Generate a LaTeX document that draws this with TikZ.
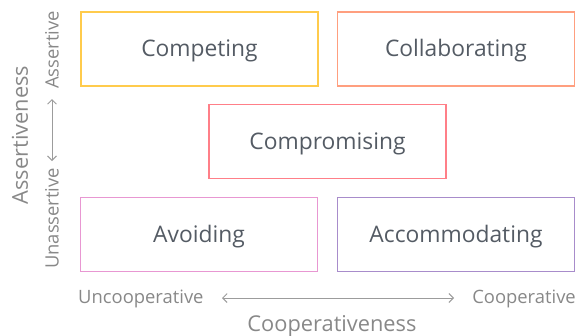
\documentclass[tikz,border=0pt]{standalone}
\usepackage{fontspec}
\setmainfont{Open Sans}
\usetikzlibrary{arrows.meta}
\definecolor{cyel}{HTML}{FFCB4C}
\definecolor{corg}{HTML}{FF9F7F}
\definecolor{cred}{HTML}{FF7F88}
\definecolor{cpnk}{HTML}{E897D2}
\definecolor{cpur}{HTML}{A88CCB}
\definecolor{ctxt}{HTML}{545B64}
\definecolor{caxs}{HTML}{888888}
\definecolor{carr}{HTML}{9C9C9C}
\begin{document}
\begin{tikzpicture}[x=1pt,y=-1pt,
  stylebox/.style={draw,line width=1.4pt,minimum width=237pt,minimum height=74pt,inner sep=0pt,
    text height=21pt,text depth=5.5pt,
    font=\fontsize{22.8}{26}\selectfont,text=ctxt},
  axlab/.style={font=\fontsize{18.4}{22}\selectfont,text=caxs,inner sep=0pt},
  axtitle/.style={font=\fontsize{21.8}{26}\selectfont,text=caxs,inner sep=0pt},
  axarrow/.style={draw=carr,line width=0.9pt,{Straight Barb[length=4.5pt,width=9pt]}-{Straight Barb[length=4.5pt,width=9pt]}}]
\useasboundingbox (0,0) rectangle (580,335);
\node[stylebox,draw=cyel] (comp) at (199.5,49) {Competing};
\node[stylebox,draw=corg] (coll) at (456,49) {Collaborating};
\node[stylebox,draw=cred] (compr) at (327.5,141.5) {Compromising};
\node[stylebox,draw=cpnk] (avoid) at (199,234.5) {Avoiding};
\node[stylebox,draw=cpur] (accom) at (456,234.5) {Accommodating};
% horizontal axis
\node[axlab,anchor=west] (uncoop) at (78,298.5) {Uncooperative};
\node[axlab,anchor=east] (coop) at (576,298.5) {Cooperative};
\coordinate (hl) at (222,298);
\coordinate (hr) at (454,298);
\draw[axarrow] (hl) -- (hr);
\node[axtitle] (coopness) at (332,326) {Cooperativeness};
% vertical axis
\node[axlab,rotate=90,anchor=east] (assert) at (52,11) {Assertive};
\node[axlab,rotate=90,anchor=west] (unassert) at (52,269) {Unassertive};
\coordinate (vt) at (52,99);
\coordinate (vb) at (52,161);
\draw[axarrow] (vb) -- (vt);
\node[axtitle,rotate=90] (assness) at (20,135) {Assertiveness};
\end{tikzpicture}
\end{document}
